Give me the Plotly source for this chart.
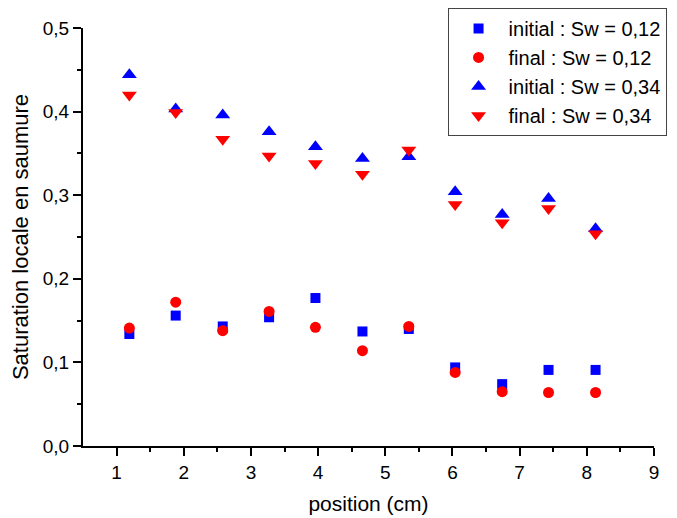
import plotly.graph_objects as go

positions = [1.19, 1.88, 2.58, 3.27, 3.96, 4.66, 5.35, 6.04, 6.74, 7.43, 8.13]
initial_012 = [0.134, 0.156, 0.143, 0.154, 0.177, 0.137, 0.140, 0.094, 0.074, 0.091, 0.091]
final_012 = [0.141, 0.172, 0.138, 0.161, 0.142, 0.114, 0.143, 0.088, 0.065, 0.064, 0.064]
initial_034 = [0.444, 0.403, 0.396, 0.376, 0.358, 0.344, 0.346, 0.304, 0.277, 0.296, 0.260]
final_034 = [0.420, 0.399, 0.367, 0.347, 0.338, 0.325, 0.354, 0.289, 0.267, 0.284, 0.254]

names = ["initial : Sw = 0,12", "final : Sw = 0,12", "initial : Sw = 0,34", "final : Sw = 0,34"]

fig = go.Figure()
series = [
    (initial_012, "square", "#0000FF", 10),
    (final_012, "circle", "#FF0000", 11),
    (initial_034, "triangle-up", "#0000FF", 13),
    (final_034, "triangle-down", "#FF0000", 13),
]
for name, (vals, sym, col, sz) in zip(names, series):
    fig.add_trace(go.Scatter(
        x=positions, y=vals, mode="markers", name=name,
        marker=dict(symbol=sym, color=col, size=sz, line=dict(width=0)),
    ))

axis_common = dict(
    showgrid=False, zeroline=False, showline=True, linecolor="black", linewidth=2,
    ticks="outside", ticklen=8, tickwidth=2, tickcolor="black",
    tickfont=dict(size=19, color="black"),
    minor=dict(ticks="outside", ticklen=4, tickwidth=2, tickcolor="black"),
    mirror=False, automargin=False,
)

fig.update_xaxes(range=[0.5, 9], tickvals=[1, 2, 3, 4, 5, 6, 7, 8, 9],
                 minor_tickvals=[1.5, 2.5, 3.5, 4.5, 5.5, 6.5, 7.5, 8.5],
                 title=dict(text="position (cm)", font=dict(size=21, color="black")),
                 **axis_common)
fig.update_yaxes(range=[0, 0.5], tickvals=[0, 0.1, 0.2, 0.3, 0.4, 0.5], tickformat=".1f",
                 minor_tickvals=[0.05, 0.15, 0.25, 0.35, 0.45],
                 title=dict(text="Saturation locale en saumure", font=dict(size=22, color="black")),
                 **axis_common)

# page body has an 8px margin: figure is offset by 8px on left/top
fig.update_layout(
    width=669, height=510,
    margin=dict(l=75, r=23, t=20, b=72, autoexpand=False),
    paper_bgcolor="white", plot_bgcolor="white",
    separators=", ",
    font=dict(family="Arial, Liberation Sans, sans-serif", color="black"),
    showlegend=True,
    legend=dict(
        x=1.022, xanchor="right", y=1.048, yanchor="top",
        bordercolor="#444", borderwidth=1, bgcolor="white",
        font=dict(size=20, color="black"),
        itemwidth=50,
    ),
)

fig.write_html("out.html")
